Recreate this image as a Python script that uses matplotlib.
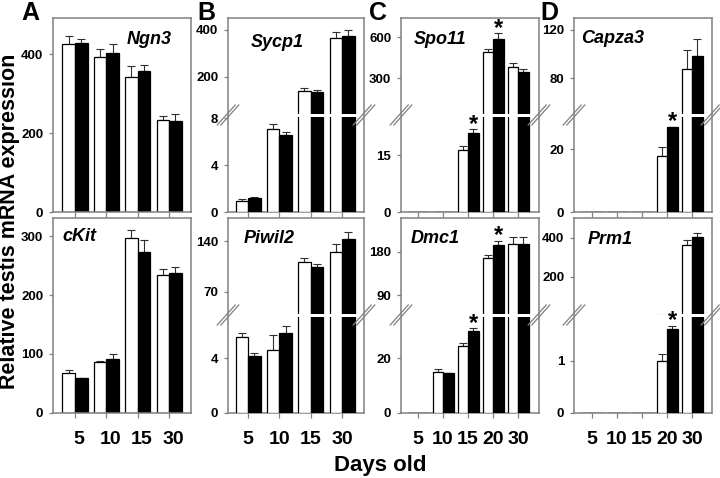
import numpy as np
import matplotlib
matplotlib.use("Agg")
import matplotlib.pyplot as plt
from matplotlib.lines import Line2D
from matplotlib.transforms import ScaledTranslation

plt.rcParams['font.family'] = ['Liberation Sans', 'DejaVu Sans']
plt.rcParams['font.weight'] = 'bold'

# ---------------- data ----------------
days4 = ["5", "10", "15", "30"]
days5 = ["5", "10", "15", "20", "30"]

ngn3_wt = [425, 392, 343, 233]
ngn3_wt_err = [22, 21, 28, 10]
ngn3_ko = [428, 404, 358, 231]
ngn3_ko_err = [12, 21, 15, 19]

sycp1_wt = [1.0, 7.1, 142, 365]
sycp1_wt_err = [0.1, 0.45, 10, 25]
sycp1_ko = [1.25, 6.6, 135, 374]
sycp1_ko_err = [0.05, 0.25, 10, 26]

spo11_wt = [0, 0, 16.4, 490, 380]
spo11_wt_err = [0, 0, 0.9, 22, 30]
spo11_ko = [0, 0, 20.8, 585, 346]
spo11_ko_err = [0, 0, 0.9, 44, 20]
spo11_sig = [2, 3]

capza3_wt = [0, 0, 0, 17.9, 87.7]
capza3_wt_err = [0, 0, 0, 2.6, 16]
capza3_ko = [0, 0, 0, 26.9, 98.7]
capza3_ko_err = [0, 0, 0, 0.2, 13.6]
capza3_sig = [3]

ckit_wt = [67, 86.6, 297, 234]
ckit_wt_err = [5, 1, 14, 9.5]
ckit_ko = [58.4, 90.6, 273, 238]
ckit_ko_err = [1.1, 8.4, 21, 10]

piwil2_wt = [5.55, 4.62, 111.4, 124.4]
piwil2_wt_err = [0.3, 1.1, 4.6, 11]
piwil2_ko = [4.17, 5.85, 103.7, 142.3]
piwil2_ko_err = [0.25, 0.53, 4.3, 10.5]

dmc1_wt = [0, 15.1, 24.7, 166.3, 197]
dmc1_wt_err = [0, 1.0, 0.9, 6.7, 14]
dmc1_ko = [0, 14.5, 30.1, 193.6, 197]
dmc1_ko_err = [0, 0.2, 1.0, 8.4, 14]
dmc1_sig = [2, 3]

prm1_wt = [0, 0, 0, 1.0, 362.6]
prm1_wt_err = [0, 0, 0, 0.13, 25]
prm1_ko = [0, 0, 0, 1.61, 405]
prm1_ko_err = [0, 0, 0, 0.07, 17]
prm1_sig = [3]

# ---------------- layout ----------------
W, H = 720, 478
COL_L = [53, 228, 401, 574]
COL_R = [191, 364, 539, 712]
ROW_T = [18, 218]
ROW_B = [212.3, 412.7]
ROW_BRK = [115, 315]
GAP = 1.5
GRAY = '#808080'

fig = plt.figure(figsize=(W / 100, H / 100), dpi=100)


def rect(l, r, t, b):
    return [l / W, 1 - b / H, (r - l) / W, (b - t) / H]


panels = [
    dict(row=0, col=0, name="Ngn3", cats=days4, wt=ngn3_wt, wte=ngn3_wt_err, ko=ngn3_ko, koe=ngn3_ko_err,
         sig=[], low=(0, 492), lowt=[0, 200, 400], high=None, xl=(-0.70, 3.70), bw=0.4, lab=(0.70, 0.89)),
    dict(row=0, col=1, name="Sycp1", cats=days4, wt=sycp1_wt, wte=sycp1_wt_err, ko=sycp1_ko, koe=sycp1_ko_err,
         sig=[], low=(0, 8.15), lowt=[0, 4, 8], high=(44.7, 451), hight=[200, 400], xl=(-0.64, 3.70), bw=0.4,
         lab=(0.36, 0.876)),
    dict(row=0, col=2, name="Spo11", cats=days5, wt=spo11_wt, wte=spo11_wt_err, ko=spo11_ko, koe=spo11_ko_err,
         sig=spo11_sig, low=(0, 25.1), lowt=[0, 15], high=(42.4, 741), hight=[300, 600], xl=(-0.68, 4.84), bw=0.42,
         lab=(0.28, 0.89)),
    dict(row=0, col=3, name="Capza3", cats=days5, wt=capza3_wt, wte=capza3_wt_err, ko=capza3_ko, koe=capza3_ko_err,
         sig=capza3_sig, low=(0, 30.3), lowt=[0, 20], high=(50.9, 129.9), hight=[80, 120], xl=(-0.72, 4.8), bw=0.42,
         lab=(0.28, 0.895)),
    dict(row=1, col=0, name="cKit", cats=days4, wt=ckit_wt, wte=ckit_wt_err, ko=ckit_ko, koe=ckit_ko_err,
         sig=[], low=(0, 331), lowt=[0, 100, 200, 300], high=None, xl=(-0.70, 3.70), bw=0.4, lab=(0.195, 0.904),
         xshift=4),
    dict(row=1, col=1, name="Piwil2", cats=days4, wt=piwil2_wt, wte=piwil2_wt_err, ko=piwil2_ko, koe=piwil2_ko_err,
         sig=[], low=(0, 7.08), lowt=[0, 4], high=(39.9, 171.8), hight=[70, 140], xl=(-0.64, 3.70), bw=0.4,
         lab=(0.30, 0.897)),
    dict(row=1, col=2, name="Dmc1", cats=days5, wt=dmc1_wt, wte=dmc1_wt_err, ko=dmc1_ko, koe=dmc1_ko_err,
         sig=dmc1_sig, low=(0, 35.4), lowt=[0, 20], high=(51.6, 250), hight=[90, 180], xl=(-0.68, 4.84), bw=0.42,
         lab=(0.25, 0.897)),
    dict(row=1, col=3, name="Prm1", cats=days5, wt=prm1_wt, wte=prm1_wt_err, ko=prm1_ko, koe=prm1_ko_err,
         sig=prm1_sig, low=(0, 1.86), lowt=[0, 1], high=(11.3, 501), hight=[200, 400], xl=(-0.72, 4.8), bw=0.42,
         lab=(0.26, 0.89)),
]


def style_ticks(ax, xshift=0):
    ax.tick_params(axis='y', direction='out', length=3, width=0.9, color=GRAY, pad=4, labelsize=9.5)
    ax.tick_params(axis='x', direction='out', length=3.5, width=0.9, color=GRAY, pad=9.5, labelsize=14)
    for lab in ax.get_yticklabels() + ax.get_xticklabels():
        lab.set_fontweight('bold')
    if xshift:
        off = ScaledTranslation(xshift / 100, 0, fig.dpi_scale_trans)
        for lab in ax.get_xticklabels():
            lab.set_transform(lab.get_transform() + off)


def draw_bars(ax, p):
    x = np.arange(len(p['cats']))
    w = p['bw']
    wt = np.array(p['wt'], float)
    ko = np.array(p['ko'], float)
    ax.bar(x - w / 2, wt, w, color='white', edgecolor='black', linewidth=0.9, zorder=2)
    ax.bar(x + w / 2, ko, w, color='black', edgecolor='black', linewidth=0.9, zorder=2)
    for xs, v, e in ((x - w / 2, wt, np.array(p['wte'], float)), (x + w / 2, ko, np.array(p['koe'], float))):
        m = v > 0
        ax.errorbar(xs[m], v[m], yerr=[np.zeros(m.sum()), e[m]], fmt='none', ecolor='#303030',
                    elinewidth=0.8, capsize=2.6, capthick=0.8, zorder=1)
    ax.set_xlim(*p['xl'])
    ax.set_xticks(x)


def add_stars(axes_list, p):
    x = np.arange(len(p['cats']))
    w = p['bw']
    for i in p['sig']:
        top = p['ko'][i] + p['koe'][i]
        target = axes_list[0]
        if len(axes_list) > 1 and top > axes_list[0].get_ylim()[1]:
            target = axes_list[1]
        target.annotate('*', xy=(x[i] + w / 2, top), xytext=(0, -1), textcoords='offset points',
                        ha='center', va='baseline', fontsize=17, fontweight='bold', annotation_clip=False)


def break_marks(xpx, ypx):
    for d in (-1.8, 1.8):
        xs = [(xpx + d - 9) / W, (xpx + d + 9) / W]
        ys = [1 - (ypx + 10) / H, 1 - (ypx - 10) / H]
        fig.add_artist(Line2D(xs, ys, transform=fig.transFigure, color=GRAY, lw=0.9))


for p in panels:
    l, r = COL_L[p['col']], COL_R[p['col']]
    t, b = ROW_T[p['row']], ROW_B[p['row']]
    bottom_row = p['row'] == 1
    if p['high'] is None:
        ax = fig.add_axes(rect(l, r, t, b))
        draw_bars(ax, p)
        ax.set_ylim(*p['low'])
        ax.set_yticks(p['lowt'])
        for s in ax.spines.values():
            s.set_color(GRAY)
            s.set_linewidth(1.1)
        if bottom_row:
            ax.set_xticklabels(p['cats'])
        else:
            ax.set_xticklabels([])
        style_ticks(ax, p.get('xshift', 0))
        add_stars([ax], p)
        ax.text(p['lab'][0], p['lab'][1], p['name'], transform=ax.transAxes, ha='center', va='center',
                fontsize=13, fontweight='bold', fontstyle='italic')
    else:
        brk = ROW_BRK[p['row']]
        frame = fig.add_axes(rect(l, r, t, b))
        frame.set_xticks([])
        frame.set_yticks([])
        frame.set_facecolor('none')
        for s in frame.spines.values():
            s.set_color(GRAY)
            s.set_linewidth(1.1)
        lo = fig.add_axes(rect(l, r, brk + GAP, b))
        hi = fig.add_axes(rect(l, r, t, brk - GAP))
        for a in (lo, hi):
            a.set_facecolor('none')
            for s in a.spines.values():
                s.set_visible(False)
            draw_bars(a, p)
        lo.set_ylim(*p['low'])
        lo.set_yticks(p['lowt'])
        hi.set_ylim(*p['high'])
        hi.set_yticks(p['hight'])
        hi.tick_params(axis='x', bottom=False, labelbottom=False)
        if bottom_row:
            lo.set_xticklabels(p['cats'])
        else:
            lo.set_xticklabels([])
        style_ticks(lo, p.get('xshift', 0))
        style_ticks(hi)
        add_stars([lo, hi], p)
        frame.text(p['lab'][0], p['lab'][1], p['name'], transform=frame.transAxes, ha='center', va='center',
                   fontsize=13, fontweight='bold', fontstyle='italic')
        break_marks(l, brk)
        break_marks(r, brk)

# panel letters
for letter, xc in zip("ABCD", [30, 206.5, 378.5, 549.5]):
    fig.text(xc / W, 1 - 12.5 / H, letter, ha='center', va='center', fontsize=18, fontweight='bold')

fig.text(10 / W, 1 - 221 / H, "Relative testis mRNA expression", rotation=90, ha='center', va='center',
         fontsize=15.5, fontweight='bold')
fig.text(380 / W, 1 - 465 / H, "Days old", ha='center', va='center', fontsize=16, fontweight='bold')

fig.savefig("out.png", dpi=100)
